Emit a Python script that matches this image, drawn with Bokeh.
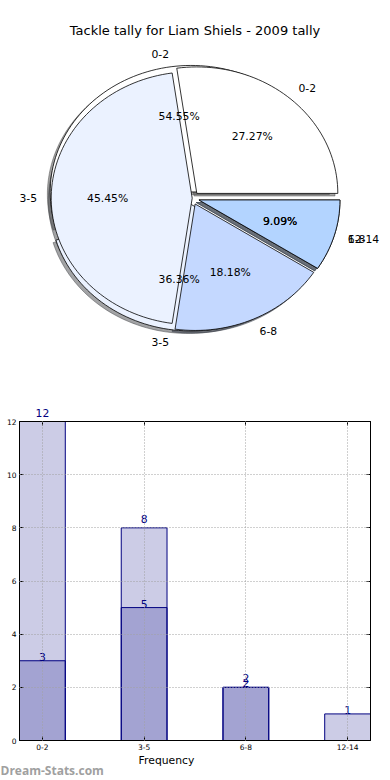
import math
from bokeh.plotting import figure
from bokeh.models import Range1d, LabelSet, LinearAxis, FixedTicker, ColumnDataSource
from bokeh.embed import file_html
from bokeh.resources import INLINE
from bokeh.core.properties import value

# ---------------- data ----------------
title_text = "Tackle tally for Liam Shiels - 2009 tally"
all_cats = ["0-2", "3-5", "6-8", "12-14"]
cats_a = ["0-2", "3-5", "6-8"]
vals_a = [12, 8, 2]
cats_b = ["0-2", "3-5", "6-8", "12-14"]
vals_b = [3, 5, 2, 1]
y_ticks = [0, 2, 4, 6, 8, 10, 12]
x_label = "Frequency"
watermark = "Dream-Stats.com"

# ---------------- styles ----------------
pie_colors = ["#FFFFFF", "#EBF2FF", "#C4D8FF", "#B3D4FF"]
explode_a = [0.05, 0.05, 0.05]
explode_b = [0.05, 0.0, 0.05, 0.05]
FONT = value("DejaVu Sans")
FONT_NAME = "DejaVu Sans"

# ---------------- pie figure ----------------
W1, H1 = 390, 400
CX, CY, RX, RY = 191.7, 197.7, 141.0, 126.5
p1 = figure(width=W1, height=H1, output_backend="svg", toolbar_location=None,
            x_range=Range1d(-CX / RX, (W1 - CX) / RX),
            y_range=Range1d((CY - H1) / RY, CY / RY),
            x_axis_type=None, y_axis_type=None, min_border=0)
p1.outline_line_color = None
p1.grid.visible = False
p1.background_fill_color = "white"
p1.border_fill_color = "white"


def hex_rgb(h):
    h = h.lstrip("#")
    return tuple(int(h[i:i + 2], 16) for i in (0, 2, 4))


def pie_geometry(vals, explode):
    tot = float(sum(vals))
    out = []
    a0 = 0.0
    for v, e in zip(vals, explode):
        a1 = a0 + 360.0 * v / tot
        mid = math.radians((a0 + a1) / 2)
        dx, dy = e * math.cos(mid), e * math.sin(mid)
        n = max(4, int((a1 - a0) / 2))
        xs = [dx] + [dx + math.cos(math.radians(a0 + (a1 - a0) * k / n)) for k in range(n + 1)]
        ys = [dy] + [dy + math.sin(math.radians(a0 + (a1 - a0) * k / n)) for k in range(n + 1)]
        out.append(dict(xs=xs, ys=ys, mid=mid, dx=dx, dy=dy, frac=v / tot))
        a0 = a1
    return out


geo_a = pie_geometry(vals_a, explode_a)
geo_b = pie_geometry(vals_b, explode_b)

# shadows (below every wedge)
for geo in (geo_a, geo_b):
    for i, g in enumerate(geo):
        r, gg, b = hex_rgb(pie_colors[i])
        sc = "#%02x%02x%02x" % (int(0.3 * r), int(0.3 * gg), int(0.3 * b))
        p1.patch([x - 0.02 for x in g["xs"]], [y - 0.02 for y in g["ys"]],
                 fill_color=sc, fill_alpha=0.5, line_color=sc, line_alpha=0.5, line_width=1)

# wedges
for geo in (geo_a, geo_b):
    for i, g in enumerate(geo):
        p1.patch(g["xs"], g["ys"], fill_color=pie_colors[i], line_color="black", line_width=0.8)

# texts
for geo, cats in ((geo_a, cats_a), (geo_b, cats_b)):
    for g, c in zip(geo, cats):
        cx, cy = math.cos(g["mid"]), math.sin(g["mid"])
        lx, ly = g["dx"] + 1.1 * cx, g["dy"] + 1.1 * cy
        p1.text([lx], [ly], text=[c], text_align="left" if cx > 0 else "right",
                text_baseline="middle", text_font=FONT, text_font_size="10.8px", text_color="black")
        px, py = g["dx"] + 0.6 * cx, g["dy"] + 0.6 * cy
        p1.text([px], [py], text=["%.2f%%" % (100 * g["frac"])], text_align="center",
                text_baseline="middle", text_font=FONT, text_font_size="10.8px", text_color="black")

p1.text([(194.5 - CX) / RX], [(CY - 30) / RY], text=[title_text], text_align="center",
        text_baseline="middle", text_font=FONT, text_font_size="13px", text_color="black")

# ---------------- bar figure ----------------
W2, H2 = 390, 353
YMAX = 12
PYU = 319 / float(YMAX)
p2 = figure(width=W2, height=H2, output_backend="svg", toolbar_location=None,
            x_range=Range1d(-0.225, 3.225), y_range=Range1d(0, YMAX),
            min_border_left=19, min_border_right=20, min_border_top=21, min_border_bottom=13)
p2.background_fill_color = "white"
p2.border_fill_color = "white"
p2.outline_line_color = "black"
p2.outline_line_width = 1

xa = [all_cats.index(c) for c in cats_a]
xb = [all_cats.index(c) for c in cats_b]
p2.vbar(x=xa, top=vals_a, width=0.45, fill_color="navy", fill_alpha=0.2, line_color="navy", line_width=1)
p2.vbar(x=xb, top=vals_b, width=0.45, fill_color="navy", fill_alpha=0.2, line_color="navy", line_width=1)

xt = FixedTicker(ticks=list(range(len(all_cats))))
yt = FixedTicker(ticks=y_ticks)
for ax in p2.xaxis:
    ax.ticker = xt
    ax.major_label_overrides = {i: c for i, c in enumerate(all_cats)}
for ax in p2.yaxis:
    ax.ticker = yt
for ax in list(p2.xaxis) + list(p2.yaxis):
    ax.major_tick_in = 4
    ax.major_tick_out = 0
    ax.minor_tick_in = 0
    ax.minor_tick_out = 0
    ax.major_label_text_font = FONT_NAME
    ax.major_label_text_font_size = "7.5px"
    ax.major_label_text_color = "black"
    ax.major_label_standoff = 3
    ax.axis_line_color = "black"

LABEL_OFF_A = 5 / PYU
# value labels of series A that fall above the plot frame are shown on the top axis
top_over = {}
for c, v in zip(cats_a, vals_a):
    top_over[all_cats.index(c)] = str(v) if v + LABEL_OFF_A > YMAX else ""
for i in range(len(all_cats)):
    top_over.setdefault(i, "")

right = LinearAxis(ticker=yt, major_tick_in=4, major_tick_out=0, minor_tick_in=0, minor_tick_out=0,
                   major_label_text_font_size="0px", major_label_standoff=0, axis_line_color="black")
top = LinearAxis(ticker=xt, major_tick_in=4, major_tick_out=0, minor_tick_in=0, minor_tick_out=0,
                 major_label_overrides=top_over, major_label_text_color="navy",
                 major_label_text_font=FONT_NAME, major_label_text_font_size="10.8px",
                 major_label_standoff=5, axis_line_color="black")
p2.add_layout(right, "right")
p2.add_layout(top, "above")

p2.xgrid.ticker = xt
p2.ygrid.ticker = yt
for gr in (p2.xgrid, p2.ygrid):
    gr.grid_line_color = "#a0a0a0"
    gr.grid_line_dash = "1 2"
    gr.grid_line_width = 1
    gr.level = "overlay"

in_a = [(x, v) for x, v in zip(xa, vals_a) if v + LABEL_OFF_A <= YMAX]
src_a = ColumnDataSource(dict(x=[x for x, _ in in_a], y=[v + LABEL_OFF_A for _, v in in_a],
                              t=[str(v) for _, v in in_a]))
src_b = ColumnDataSource(dict(x=xb, y=list(vals_b), t=[str(v) for v in vals_b]))
for src in (src_a, src_b):
    p2.add_layout(LabelSet(x="x", y="y", text="t", source=src, text_align="center",
                           text_baseline="alphabetic", text_color="navy",
                           text_font=FONT, text_font_size="10.8px"))

# ---------------- footer (x label + watermark) ----------------
W3, H3 = 390, 780 - H1 - H2
p3 = figure(width=W3, height=H3, output_backend="svg", toolbar_location=None,
            x_range=Range1d(0, W3), y_range=Range1d(780, H1 + H2),
            x_axis_type=None, y_axis_type=None, min_border=0)
p3.outline_line_color = None
p3.grid.visible = False
p3.text([166], [760], text=[x_label], text_align="center", text_baseline="middle",
        text_font=FONT, text_font_size="10.8px", text_color="black")
p3.text([0], [770], text=[watermark], text_align="left", text_baseline="middle",
        text_font=value("Open Sans"), text_font_size="12px", text_font_style="bold",
        text_color="#a0a0a0")

# separate roots, so the frames are not aligned with each other
open("out.html", "w").write(file_html([p1, p2, p3], INLINE))
